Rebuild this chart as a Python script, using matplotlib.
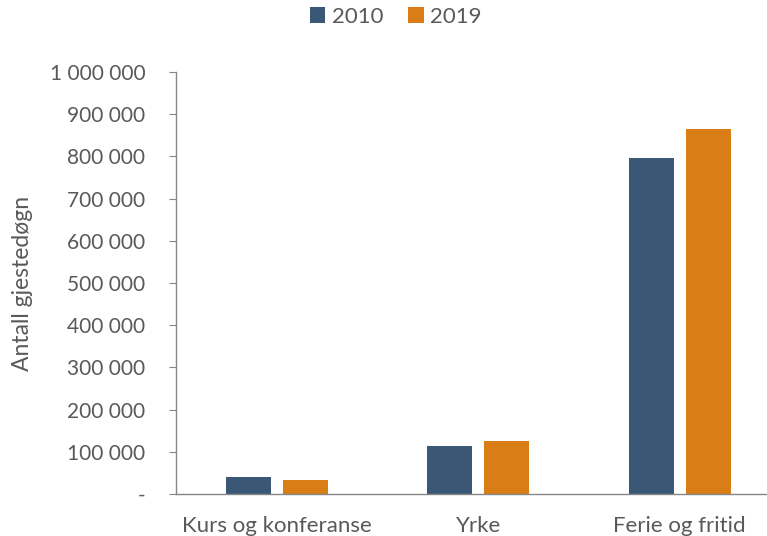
import numpy as np
import matplotlib.pyplot as plt
from matplotlib.ticker import FuncFormatter

categories = ["Kurs og konferanse", "Yrke", "Ferie og fritid"]
years = ["2010", "2019"]
values_2010 = [40000, 113000, 795000]
values_2019 = [34000, 126000, 866000]

blue = "#3B5776"
orange = "#D97E17"
grey = "#595959"

plt.rcParams['font.family'] = ['Lato', 'DejaVu Sans']

fig = plt.figure(figsize=(7.67, 5.36), dpi=100)
ax = fig.add_axes([0.2295, 0.0784, 0.788, 0.7873])

x = np.arange(len(categories))
w = 0.224
off = 0.1415
ax.bar(x - off, values_2010, w, color=blue, label=years[0])
ax.bar(x + off, values_2019, w, color=orange, label=years[1])

ax.set_xlim(-0.5, 2.5)
ax.set_ylim(0, 1000000)
ax.set_yticks(np.arange(0, 1000001, 100000))

def fmt(v, pos):
    if v == 0:
        return "-"
    return f"{int(v):,}".replace(",", " ")

ax.yaxis.set_major_formatter(FuncFormatter(fmt))
ax.set_xticks(x)
ax.set_xticklabels(categories)

for s in ["top", "right"]:
    ax.spines[s].set_visible(False)
for s in ["left", "bottom"]:
    ax.spines[s].set_color("#868686")
    ax.spines[s].set_linewidth(1.0)

ax.tick_params(axis="y", colors="#868686", labelcolor=grey, labelsize=15, length=5, pad=17)
ax.tick_params(axis="x", length=0, labelcolor=grey, labelsize=16, pad=16)

ax.set_ylabel("Antall gjestedøgn", color=grey, fontsize=16.5, labelpad=12)

fig.legend(loc="upper center", bbox_to_anchor=(0.516, 1.025), ncol=2, frameon=False,
           fontsize=16, labelcolor=grey, handlelength=0.7, handleheight=0.7,
           handletextpad=0.3, columnspacing=1.1)

fig.savefig("out.png", dpi=100)
